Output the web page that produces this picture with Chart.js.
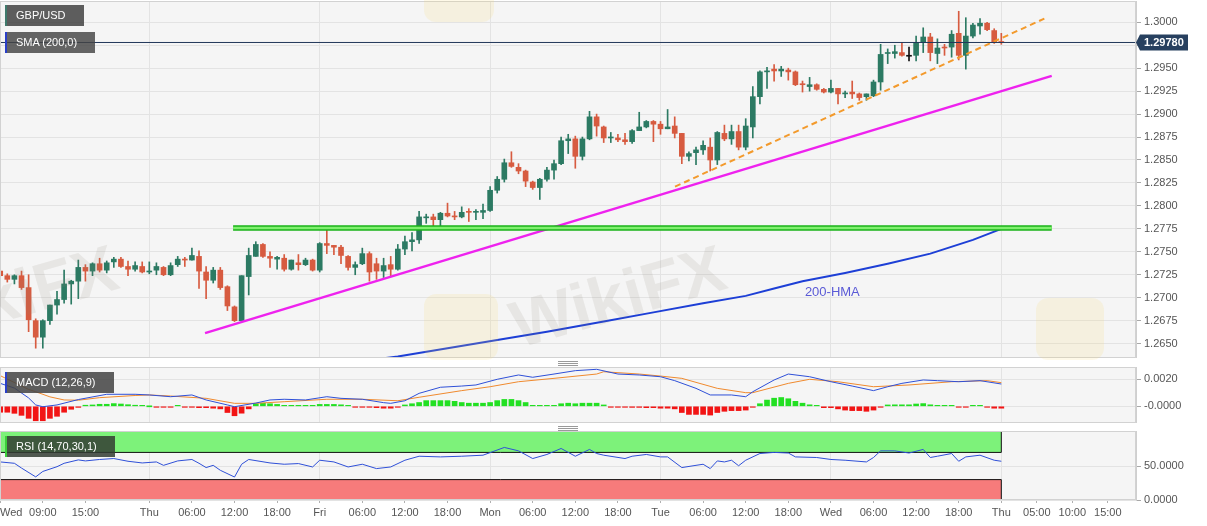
<!DOCTYPE html>
<html><head><meta charset="utf-8">
<script src="https://cdn.jsdelivr.net/npm/chart.js@4.4.0/dist/chart.umd.min.js"></script>
<style>
html,body{margin:0;padding:0;background:#fff;width:1207px;height:526px;overflow:hidden;font-family:"Liberation Sans",Arial,sans-serif;position:relative;}
canvas{position:absolute;left:0;}
.tag{position:absolute;left:5px;height:21px;line-height:21px;background:rgba(68,68,68,0.86);color:#fff;font-size:11px;padding-left:11px;box-sizing:border-box;white-space:nowrap;z-index:5;}
.tag .bar{position:absolute;left:0;top:0;width:2px;height:21px;}
.handle{position:absolute;left:558px;width:20px;height:1px;background:#9a9a9a;}
.wm{position:absolute;font-weight:bold;font-size:66px;color:rgba(140,128,118,0.13);transform:rotate(-16deg);transform-origin:center;white-space:nowrap;pointer-events:none;z-index:3;font-family:"Liberation Sans",Arial,sans-serif;}
.logo{position:absolute;border-radius:12px;background:rgba(250,215,110,0.16);pointer-events:none;z-index:3;}
</style></head><body>
<canvas id="main" width="1207" height="357" style="top:1px"></canvas>
<canvas id="macd" width="1207" height="56" style="top:367px"></canvas>
<canvas id="rsi" width="1207" height="95" style="top:431px"></canvas>

<div class="wm" style="left:508px;top:258px;">WikiFX</div>
<div class="wm" style="left:-100px;top:258px;">WikiFX</div>
<div class="logo" style="left:424px;top:294px;width:74px;height:66px;"></div>
<div class="logo" style="left:1036px;top:298px;width:68px;height:62px;"></div>
<div class="logo" style="left:424px;top:-36px;width:70px;height:58px;"></div>

<div class="tag" style="top:5px;width:79px;"><span class="bar" style="background:#3f7a6c"></span>GBP/USD</div>
<div class="tag" style="top:32px;width:90px;background:rgba(68,68,68,0.82)"><span class="bar" style="background:#2a3fc8"></span>SMA (200,0)</div>
<div class="tag" style="top:372px;width:109px;"><span class="bar" style="background:#2a3fc8"></span>MACD (12,26,9)</div>
<div class="tag" style="top:436px;width:110px;background:rgba(50,60,50,0.85)"><span class="bar" style="background:#3ccf3c"></span>RSI (14,70,30,1)</div>

<div class="handle" style="top:361px"></div><div class="handle" style="top:363px"></div><div class="handle" style="top:365px"></div>
<div class="handle" style="top:426px"></div><div class="handle" style="top:428px"></div><div class="handle" style="top:430px"></div>

<script>
// ---------------- DATA ----------------
// hour index: 0 = first Wednesday 00:00 (weekend removed)
const firstCandleHour = 3;
const opens = [
1.2729,1.2724,1.2720,1.2724,1.2711,1.2675,1.2657,1.2675,1.2692,1.2698,
1.2715,1.2718,1.2733,1.2729,1.2737,1.2730,1.2739,1.2742,1.2734,1.2731,
1.2734,1.2728,1.2730,1.2733,1.2725,1.2736,1.2742,1.2741,1.2745,1.2728,
1.2719,1.2730,1.2712,1.2690,1.2675,1.2723,1.2745,1.2758,1.2745,1.2742,
1.2743,1.2731,1.2738,1.2736,1.2741,1.2730,1.2759,1.2757,1.2755,1.2745,
1.2733,1.2737,1.2748,1.2737,1.2729,1.2736,1.2731,1.2753,1.2761,1.2763,
1.2787,1.2788,1.2785,1.2792,1.2789,1.2788,1.2794,1.2793,1.2793,1.2795,
1.2817,1.2829,1.2847,1.2842,1.2838,1.2826,1.2820,1.2829,1.2839,1.2846,
1.2871,1.2873,1.2854,1.2873,1.2897,1.2886,1.2874,1.2874,1.2872,1.2870,
1.2882,1.2886,1.2892,1.2889,1.2884,1.2887,1.2879,1.2854,1.2858,1.2861,
1.2864,1.2850,1.2879,1.2873,1.2881,1.2864,1.2886,1.2919,1.2946,1.2949,
1.2947,1.2948,1.2946,1.2933,1.2930,1.2932,1.2927,1.2924,1.2928,1.2922,
1.2924,1.2922,1.2919,1.2920,1.2935,1.2966,1.2966,1.2967,1.2963,1.2964,
1.2978,1.2984,1.2966,1.2973,1.2973,1.2988,1.2964,1.2985,1.2996,1.2999,
1.2991,1.2979];
const highs = [
1.2730,1.2726,1.2725,1.2729,1.2725,1.2677,1.2676,1.2692,1.2707,1.2730,
1.2719,1.2741,1.2736,1.2738,1.2743,1.2740,1.2744,1.2744,1.2740,1.2739,
1.2739,1.2739,1.2738,1.2734,1.2738,1.2745,1.2744,1.2754,1.2751,1.2734,
1.2733,1.2733,1.2713,1.2691,1.2724,1.2754,1.2761,1.2759,1.2750,1.2745,
1.2747,1.2741,1.2747,1.2743,1.2742,1.2760,1.2774,1.2757,1.2757,1.2746,
1.2739,1.2754,1.2750,1.2743,1.2743,1.2745,1.2758,1.2767,1.2771,1.2794,
1.2791,1.2791,1.2793,1.2803,1.2794,1.2799,1.2797,1.2796,1.2802,1.2821,
1.2832,1.2851,1.2859,1.2846,1.2839,1.2827,1.2830,1.2842,1.2850,1.2875,
1.2878,1.2876,1.2875,1.2903,1.2900,1.2887,1.2880,1.2878,1.2879,1.2883,
1.2902,1.2893,1.2893,1.2892,1.2905,1.2897,1.2879,1.2859,1.2864,1.2871,
1.2874,1.2881,1.2888,1.2888,1.2888,1.2895,1.2930,1.2947,1.2951,1.2954,
1.2952,1.2950,1.2947,1.2936,1.2940,1.2933,1.2928,1.2937,1.2928,1.2925,
1.2936,1.2923,1.2922,1.2937,1.2976,1.2971,1.2975,1.2978,1.2973,1.2985,
1.2994,1.2988,1.2982,1.2976,1.2991,1.3012,1.3005,1.2999,1.3004,1.3000,
1.2993,1.2988];
const lows = [
1.2723,1.2717,1.2715,1.2709,1.2663,1.2645,1.2645,1.2671,1.2682,1.2694,
1.2693,1.2699,1.2718,1.2724,1.2728,1.2727,1.2733,1.2733,1.2724,1.2729,
1.2727,1.2726,1.2725,1.2724,1.2724,1.2734,1.2734,1.2741,1.2710,1.2699,
1.2716,1.2709,1.2686,1.2674,1.2675,1.2703,1.2745,1.2744,1.2733,1.2731,
1.2729,1.2730,1.2730,1.2735,1.2729,1.2728,1.2748,1.2747,1.2737,1.2730,
1.2725,1.2736,1.2718,1.2720,1.2722,1.2724,1.2730,1.2747,1.2751,1.2759,
1.2781,1.2778,1.2778,1.2788,1.2785,1.2787,1.2783,1.2785,1.2786,1.2794,
1.2814,1.2826,1.2842,1.2835,1.2821,1.2818,1.2807,1.2827,1.2829,1.2845,
1.2857,1.2841,1.2850,1.2872,1.2876,1.2869,1.2869,1.2870,1.2867,1.2868,
1.2882,1.2885,1.2870,1.2878,1.2884,1.2874,1.2846,1.2849,1.2845,1.2856,
1.2838,1.2845,1.2871,1.2867,1.2861,1.2861,1.2874,1.2911,1.2928,1.2936,
1.2941,1.2937,1.2931,1.2924,1.2925,1.2926,1.2923,1.2923,1.2911,1.2918,
1.2917,1.2915,1.2915,1.2919,1.2926,1.2955,1.2961,1.2963,1.2958,1.2958,
1.2967,1.2958,1.2955,1.2964,1.2962,1.2959,1.2949,1.2983,1.2987,1.2991,
1.2977,1.2976];
const closes = [
1.2724,1.2720,1.2724,1.2711,1.2676,1.2657,1.2675,1.2692,1.2698,1.2715,
1.2718,1.2733,1.2729,1.2737,1.2730,1.2738,1.2742,1.2734,1.2731,1.2735,
1.2728,1.2729,1.2734,1.2725,1.2735,1.2742,1.2741,1.2746,1.2729,1.2719,
1.2730,1.2711,1.2691,1.2675,1.2724,1.2746,1.2758,1.2745,1.2743,1.2744,
1.2731,1.2741,1.2736,1.2741,1.2730,1.2759,1.2757,1.2755,1.2746,1.2733,
1.2736,1.2748,1.2728,1.2729,1.2735,1.2731,1.2753,1.2761,1.2763,1.2788,
1.2788,1.2785,1.2792,1.2789,1.2788,1.2793,1.2793,1.2794,1.2795,1.2817,
1.2829,1.2847,1.2843,1.2838,1.2827,1.2820,1.2829,1.2839,1.2846,1.2871,
1.2873,1.2854,1.2873,1.2897,1.2887,1.2874,1.2875,1.2872,1.2870,1.2882,
1.2886,1.2892,1.2889,1.2884,1.2886,1.2879,1.2854,1.2857,1.2861,1.2866,
1.2850,1.2880,1.2873,1.2881,1.2864,1.2887,1.2919,1.2946,1.2947,1.2947,
1.2949,1.2946,1.2932,1.2932,1.2932,1.2927,1.2924,1.2928,1.2922,1.2923,
1.2922,1.2918,1.2922,1.2935,1.2965,1.2967,1.2968,1.2964,1.2963,1.2978,
1.2984,1.2967,1.2972,1.2972,1.2987,1.2964,1.2985,1.2997,1.2999,1.2992,
1.2978,1.2978];

const lastPrice = 1.29780;
const smaLevel = 1.2978;
const resistanceLevel = 1.27758;
const resistanceHours = [35.8, 151.1];
const magentaHours = [31.85, 151.1];
const magentaValues = [1.26614, 1.29416];
const orangeHours = [98.04, 150.06];
const orangeValues = [1.28210, 1.30040];
const hmaHours  = [55, 59, 66, 73, 80, 88, 95, 102, 108, 112, 116, 122, 128, 134, 140, 144];
const hmaValues = [1.2632,1.2636,1.2645,1.2654,1.2663,1.2674,1.2684,1.2694,1.2702,1.2710,1.2718,1.2727,1.2737,1.2748,1.2763,1.2775];
const hmaLabel = {text: '200-HMA', hour: 120.2, value: 1.27054};

const macdHours = [3,5,7,8,9,11,14,18,22,24,27,30,32,35,36,39,41,43,46,49,51,54,57,58,60,62,65,68,70,73,76,78,81,84,87,
  90,93,96,98,101,103,106,108,109,112,114,117,120,123,126,128,130,133,135,138,141,144];
const macdValues = [0.00170,0.00135,0.00062,0.00010,-0.00003,0.00010,0.00050,0.00089,0.00089,0.00084,0.00071,0.00084,0.00047,0.00010,-0.00003,0.00024,0.00047,0.00052,0.00047,0.00071,0.00059,0.00052,0.00027,0.00022,0.00041,0.00096,0.00141,0.00150,0.00158,0.00200,0.00232,0.00215,0.00239,0.00264,0.00274,
  0.00239,0.00232,0.00219,0.00190,0.00133,0.00084,0.00084,0.00071,0.00108,0.00195,0.00239,0.00219,0.00182,0.00150,0.00116,0.00145,0.00170,0.00195,0.00190,0.00182,0.00190,0.00165];
const signalHours = [3,7,8,10,12,14,17,22,24,27,32,36,39,43,49,54,59,62,68,72,76,81,87,88,93,96,99,104,108,109,114,117,121,126,131,137,142,144];
const signalValues = [0.00227,0.00125,0.00108,0.00070,0.00047,0.00045,0.00064,0.00080,0.00084,0.00076,0.00059,0.00022,0.00022,0.00034,0.00052,0.00052,0.00041,0.00067,0.00116,0.00145,0.00182,0.00207,0.00239,0.00256,0.00239,0.00224,0.00207,0.00133,0.00101,0.00101,0.00170,0.00200,0.00182,0.00145,0.00158,0.00182,0.00190,0.00175];
const histFirstHour = 3;
const histValues = [
-0.00044,-0.00044,-0.00052,-0.00067,-0.00089,-0.00107,-0.00107,-0.00089,-0.00074,-0.00044,-0.00022,-0.00008,
0.00008,0.00010,0.00015,0.00015,0.00020,0.00017,0.00012,0.00008,0.00004,
0,-0.00003,-0.00004,-0.00003,0.00002,-0.00002,-0.00003,-0.00010,-0.00010,-0.00014,-0.00019,
-0.00046,-0.00070,-0.00051,-0.00019,
0.00019,0.00023,0.00019,0.00014,0.00005,0.00004,0.00004,0.00004,0.00002,0.00014,0.00014,0.00014,0.00011,0.00002,
-0.00004,-0.00005,-0.00005,-0.00010,-0.00014,-0.00014,-0.00005,
0.00010,0.00019,0.00028,0.00042,0.00042,0.00042,0.00042,0.00037,0.00028,0.00023,0.00023,0.00023,0.00028,0.00042,0.00051,0.00051,0.00042,0.00028,0.00005,0.00003,0.00003,0.00005,0.00019,0.00023,0.00019,0.00023,0.00023,0.00023,
0.00010,
-0.00005,-0.00005,-0.00005,-0.00008,-0.00008,-0.00010,-0.00010,
-0.00014,-0.00014,-0.00019,
-0.00046,-0.00060,-0.00060,-0.00060,-0.00065,-0.00046,-0.00037,-0.00032,-0.00032,-0.00028,-0.00005,
0.00019,0.00046,0.00060,0.00065,0.00056,0.00037,0.00023,0.00011,0.00002,
-0.00010,-0.00010,-0.00019,-0.00028,-0.00032,-0.00032,-0.00037,-0.00028,-0.00003,
0.00010,0.00011,0.00011,0.00011,0.00017,0.00020,0.00011,0.00007,0.00003,0.00003,
-0.00003,-0.00003,0.00003,0.00003,-0.00003,-0.00014,-0.00014];

const rsiHours = [3,5,6,8,9,11,12,14,15,17,19,21,23,25,26,28,30,31,32,33,34,36,37,38,41,43,45,47,48,50,52,54,56,58,60,62,65,68,71,74,76,78,80,82,84,86,87,
  88,91,92,94,96,97,99,101,102,103,104,105,106,107,108,110,112,114,115,118,120,122,125,126,127,129,131,133,134,135,137,138,139,141,143,144];
const rsiValues = [56,54,47,34,42,49,54,59,57.5,59.6,61,57,54.5,56,51,57.5,59.6,54,47.7,51,43.7,33.8,52.6,59.6,54.5,52.6,53.6,48.6,58.5,56,48.6,52.6,46.2,48.6,58.5,64.4,63.4,64.4,65.9,77.3,72.3,61,67,75.8,64.4,74.4,68.4,
  65.9,61,64.4,67,63.4,63.4,47.7,51,52.6,46.2,57.5,56,58.5,50.4,58.5,68.4,70,69.1,63.4,62.5,59.6,58.5,56,62.5,72.3,72.3,69.1,74.4,62.5,64.4,68.4,57,63.4,65.9,58.5,57];
const rsiOverbought = 70, rsiOversold = 30, rsiBandEndHour = 144;

const priceTicks = [1.2650,1.2675,1.2700,1.2725,1.2750,1.2775,1.2800,1.2825,1.2850,1.2875,1.2900,1.2925,1.2950,1.2975,1.3000];
const macdTicks = [0, 0.002];
const macdTickLabels = ['-0.0000', '0.0020'];
const rsiTicks = [0, 50];
const rsiTickLabels = ['0.0000', '50.0000'];
const dayHours = [24, 48, 72, 96, 120, 144];
const timeTickHours = [2.97, 9, 15, 24, 30, 36, 42, 48, 54, 60, 66, 72, 78, 84, 90, 96, 102, 108, 114, 120, 126, 132, 138, 144, 149, 154, 159];
const timeTickLabels = ['Wed','09:00','15:00','Thu','06:00','12:00','18:00','Fri','06:00','12:00','18:00','Mon','06:00','12:00','18:00','Tue','06:00','12:00','18:00','Wed','06:00','12:00','18:00','Thu','05:00','10:00','15:00'];

// ---------------- STYLE / HELPERS ----------------
const FONT = '"Liberation Sans", Arial, sans-serif';
Chart.defaults.font.family = FONT;
const xMin = 2.97, xMax = 162.97;
const gridColor = '#e3e3e3';
const upColor = '#2c7a63', downColor = '#d75b40', flatColor = '#111111';

const candleHours = opens.map((_, i) => firstCandleHour + i);
const candleColors = opens.map((o, i) => closes[i] > o ? upColor : (closes[i] < o ? downColor : flatColor));

function noPad(s) { s.paddingTop = 0; s.paddingBottom = 0; s.paddingLeft = 0; s.paddingRight = 0; }
function xAxis(showLabels) {
  const tickList = showLabels ? timeTickHours.concat([xMax]) : dayHours;
  return {
    type: 'linear', min: xMin, max: xMax, offset: false,
    afterBuildTicks: s => { s.ticks = tickList.map(v => ({ value: v })); },
    afterFit: s => { s.height = showLabels ? 26 : 0; noPad(s); },
    grid: {
      offset: false, drawTicks: showLabels, tickLength: 3,
      color: c => (c.tick && dayHours.includes(c.tick.value)) ? gridColor : 'rgba(0,0,0,0)',
      tickColor: c => (c.tick && c.tick.value !== xMax) ? '#b0b0b0' : 'rgba(0,0,0,0)'
    },
    border: { display: false },
    ticks: {
      display: showLabels, autoSkip: false, maxRotation: 0, minRotation: 0, align: 'inner', padding: 3,
      color: '#555', font: { family: FONT, size: 11 },
      callback: v => { const k = timeTickHours.indexOf(v); return k >= 0 ? timeTickLabels[k] : ''; }
    }
  };
}
function yAxis(min, max, ticks, labelFn) {
  return {
    type: 'linear', position: 'right', min, max,
    afterBuildTicks: s => { s.ticks = ticks.map(v => ({ value: v })); },
    afterFit: s => { s.width = 71; noPad(s); },
    grid: { color: gridColor, tickColor: '#a8a8a8', tickLength: 5 },
    border: { display: true, color: '#cfcfcf' },
    ticks: { padding: 3, color: '#555', font: { family: FONT, size: 11 }, callback: labelFn }
  };
}
const panelPlugin = {
  id: 'panel',
  beforeDraw(chart) {
    const a = chart.chartArea, ctx = chart.ctx;
    ctx.save(); ctx.fillStyle = '#f5f5f5'; ctx.fillRect(a.left, a.top, a.right - a.left, a.bottom - a.top); ctx.restore();
  },
  afterDraw(chart) {
    const a = chart.chartArea, ctx = chart.ctx;
    ctx.save(); ctx.strokeStyle = '#d2d2d2'; ctx.lineWidth = 1;
    ctx.strokeRect(a.left + 0.5, a.top + 0.5, a.right - a.left - 1, a.bottom - a.top - 1); ctx.restore();
  }
};
const baseOptions = {
  responsive: false, animation: false, events: [],
  layout: { padding: 0, autoPadding: false },
  plugins: { legend: { display: false }, tooltip: { enabled: false } }
};
const line = (hours, values, color, width, extra) => Object.assign({
  type: 'line', data: hours.map((h, i) => ({ x: h, y: values[i] })),
  borderColor: color, borderWidth: width, pointRadius: 0, fill: false, tension: 0
}, extra || {});

// ---------------- MAIN PRICE CHART ----------------
const mainMin = 1.263431, mainMax = 1.302320;
const mainLabels = {
  id: 'mainLabels',
  afterDraw(chart) {
    const ctx = chart.ctx, y = chart.scales.y, x = chart.scales.x;
    ctx.save();
    ctx.fillStyle = '#5a5ad6'; ctx.font = '13px ' + FONT; ctx.textAlign = 'center'; ctx.textBaseline = 'middle';
    ctx.fillText(hmaLabel.text, x.getPixelForValue(hmaLabel.hour), y.getPixelForValue(hmaLabel.value));
    const py = Math.round(y.getPixelForValue(lastPrice)) + 0.5;
    const l = chart.chartArea.right;
    ctx.fillStyle = '#27405f';
    ctx.beginPath(); ctx.moveTo(l, py); ctx.lineTo(l + 4, py - 8); ctx.lineTo(l + 52, py - 8); ctx.lineTo(l + 52, py + 8); ctx.lineTo(l + 4, py + 8); ctx.closePath(); ctx.fill();
    ctx.fillStyle = '#ffffff'; ctx.font = 'bold 11px ' + FONT; ctx.textAlign = 'left';
    ctx.fillText(lastPrice.toFixed(5), l + 8, py + 0.5);
    ctx.restore();
  }
};
new Chart(document.getElementById('main'), {
  type: 'bar',
  data: { datasets: [
    line([xMin, xMax], [smaLevel, smaLevel], '#22385a', 1, { order: 1 }),
    line(orangeHours, orangeValues, '#f39a2c', 2, { borderDash: [6, 4], order: 2 }),
    line(resistanceHours, [resistanceLevel, resistanceLevel], '#7ff06e', 2.5, { order: 3 }),
    line(resistanceHours, [resistanceLevel, resistanceLevel], '#19b219', 5.5, { order: 4 }),
    line(magentaHours, magentaValues, '#ee22ee', 2.5, { order: 5 }),
    line(hmaHours, hmaValues, '#1d3fd6', 2, { order: 6 }),
    { type: 'bar', order: 9, grouped: false, barThickness: 5, minBarLength: 1, borderWidth: 0,
      backgroundColor: candleColors,
      data: candleHours.map((h, i) => ({ x: h, y: [opens[i], closes[i]] })) },
    { type: 'bar', order: 10, grouped: false, barThickness: 1, borderWidth: 0,
      backgroundColor: candleColors,
      data: candleHours.map((h, i) => ({ x: h, y: [lows[i], highs[i]] })) }
  ] },
  options: Object.assign({}, baseOptions, {
    scales: { x: xAxis(false), y: yAxis(mainMin, mainMax, priceTicks, v => v.toFixed(4)) }
  }),
  plugins: [panelPlugin, mainLabels]
});

// ---------------- MACD ----------------
new Chart(document.getElementById('macd'), {
  type: 'bar',
  data: { datasets: [
    line(macdHours, macdValues, '#2f50d8', 1, { order: 1 }),
    line(signalHours, signalValues, '#f08a2e', 1, { order: 2 }),
    { type: 'bar', order: 5, grouped: false, barThickness: 5, minBarLength: 1, borderWidth: 0,
      backgroundColor: histValues.map(v => v >= 0 ? '#22e022' : '#f21414'),
      data: histValues.map((v, i) => ({ x: histFirstHour + i, y: v })) }
  ] },
  options: Object.assign({}, baseOptions, {
    scales: { x: xAxis(false), y: yAxis(-0.001237, 0.002911, macdTicks, v => macdTickLabels[macdTicks.indexOf(v)]) }
  }),
  plugins: [panelPlugin]
});

// ---------------- RSI ----------------
new Chart(document.getElementById('rsi'), {
  type: 'line',
  data: { datasets: [
    line(rsiHours, rsiValues, '#2f50d8', 1, { order: 1 }),
    line([xMin, rsiBandEndHour], [rsiOverbought, rsiOverbought], '#111', 1, { fill: 'end', backgroundColor: '#7df27a', order: 5 }),
    line([xMin, rsiBandEndHour], [rsiOversold, rsiOversold], '#111', 1, { fill: 'start', backgroundColor: '#f77b7b', order: 6 }),
    line([rsiBandEndHour, rsiBandEndHour], [rsiOverbought, 101.5], '#111', 1, { order: 3 }),
    line([rsiBandEndHour, rsiBandEndHour], [0, rsiOversold], '#111', 1, { order: 4 })
  ] },
  options: Object.assign({}, baseOptions, {
    scales: { x: xAxis(true), y: yAxis(0, 101.5, rsiTicks, v => rsiTickLabels[rsiTicks.indexOf(v)]) }
  }),
  plugins: [panelPlugin]
});
</script>
</body></html>
